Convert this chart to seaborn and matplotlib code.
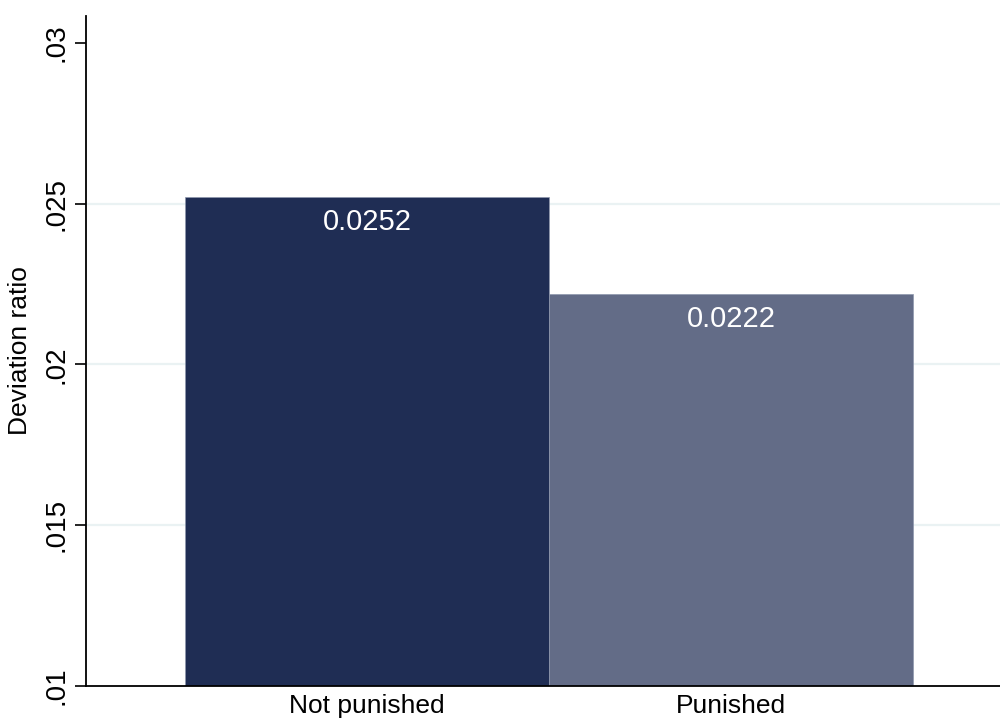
import pandas as pd
import matplotlib.pyplot as plt
import seaborn as sns

groups = ['Not punished', 'Punished']
ratios = [0.0252, 0.0222]
bar_colors = ['#1f2d54', '#636c87']
ytick_vals = [0.01, 0.015, 0.02, 0.025, 0.03]
ytick_labels = ['.01', '.015', '.02', '.025', '.03']

df = pd.DataFrame({'group': groups, 'ratio': ratios})

sns.set_theme(style="white")
plt.rcParams['font.family'] = ['Liberation Sans', 'DejaVu Sans']
plt.rcParams['text.color'] = 'black'
plt.rcParams['axes.labelcolor'] = 'black'
plt.rcParams['xtick.color'] = 'black'
plt.rcParams['ytick.color'] = 'black'

fig = plt.figure(figsize=(10, 7.24), dpi=100)
ax = fig.add_axes([0.086, 0.0525, 0.914, 0.9255])

# light grid at inner ticks only
for y in ytick_vals[1:-1]:
    ax.axhline(y, color='#eaf2f3', lw=1.6, zorder=0)

sns.barplot(data=df, x='group', y='ratio', hue='group', palette=bar_colors,
            saturation=1, width=1.0, legend=False, ax=ax, zorder=2,
            edgecolor='#8e97ad', linewidth=0.5)

for i, v in enumerate(ratios):
    ax.annotate(f'{v:.4f}', xy=(i, v), xytext=(0, -18), textcoords='offset points',
                ha='center', va='center', color='white', fontsize=21)

ax.set_xlim(-0.772, 1.739)
ax.set_ylim(0.01, 0.03084)
ax.set_yticks(ytick_vals)
ax.set_yticklabels(ytick_labels, rotation=90, va='center', fontsize=20)
ax.tick_params(axis='y', length=8, width=1.2, left=True, pad=4)
ax.tick_params(axis='x', length=0, labelsize=19, pad=6)
ax.set_xlabel('')
ax.set_ylabel('Deviation ratio', fontsize=19, labelpad=8)

sns.despine(ax=ax, top=True, right=True)
for s in ['left', 'bottom']:
    ax.spines[s].set_color('black')
    ax.spines[s].set_linewidth(1.3)

fig.savefig('out.png', dpi=100)
